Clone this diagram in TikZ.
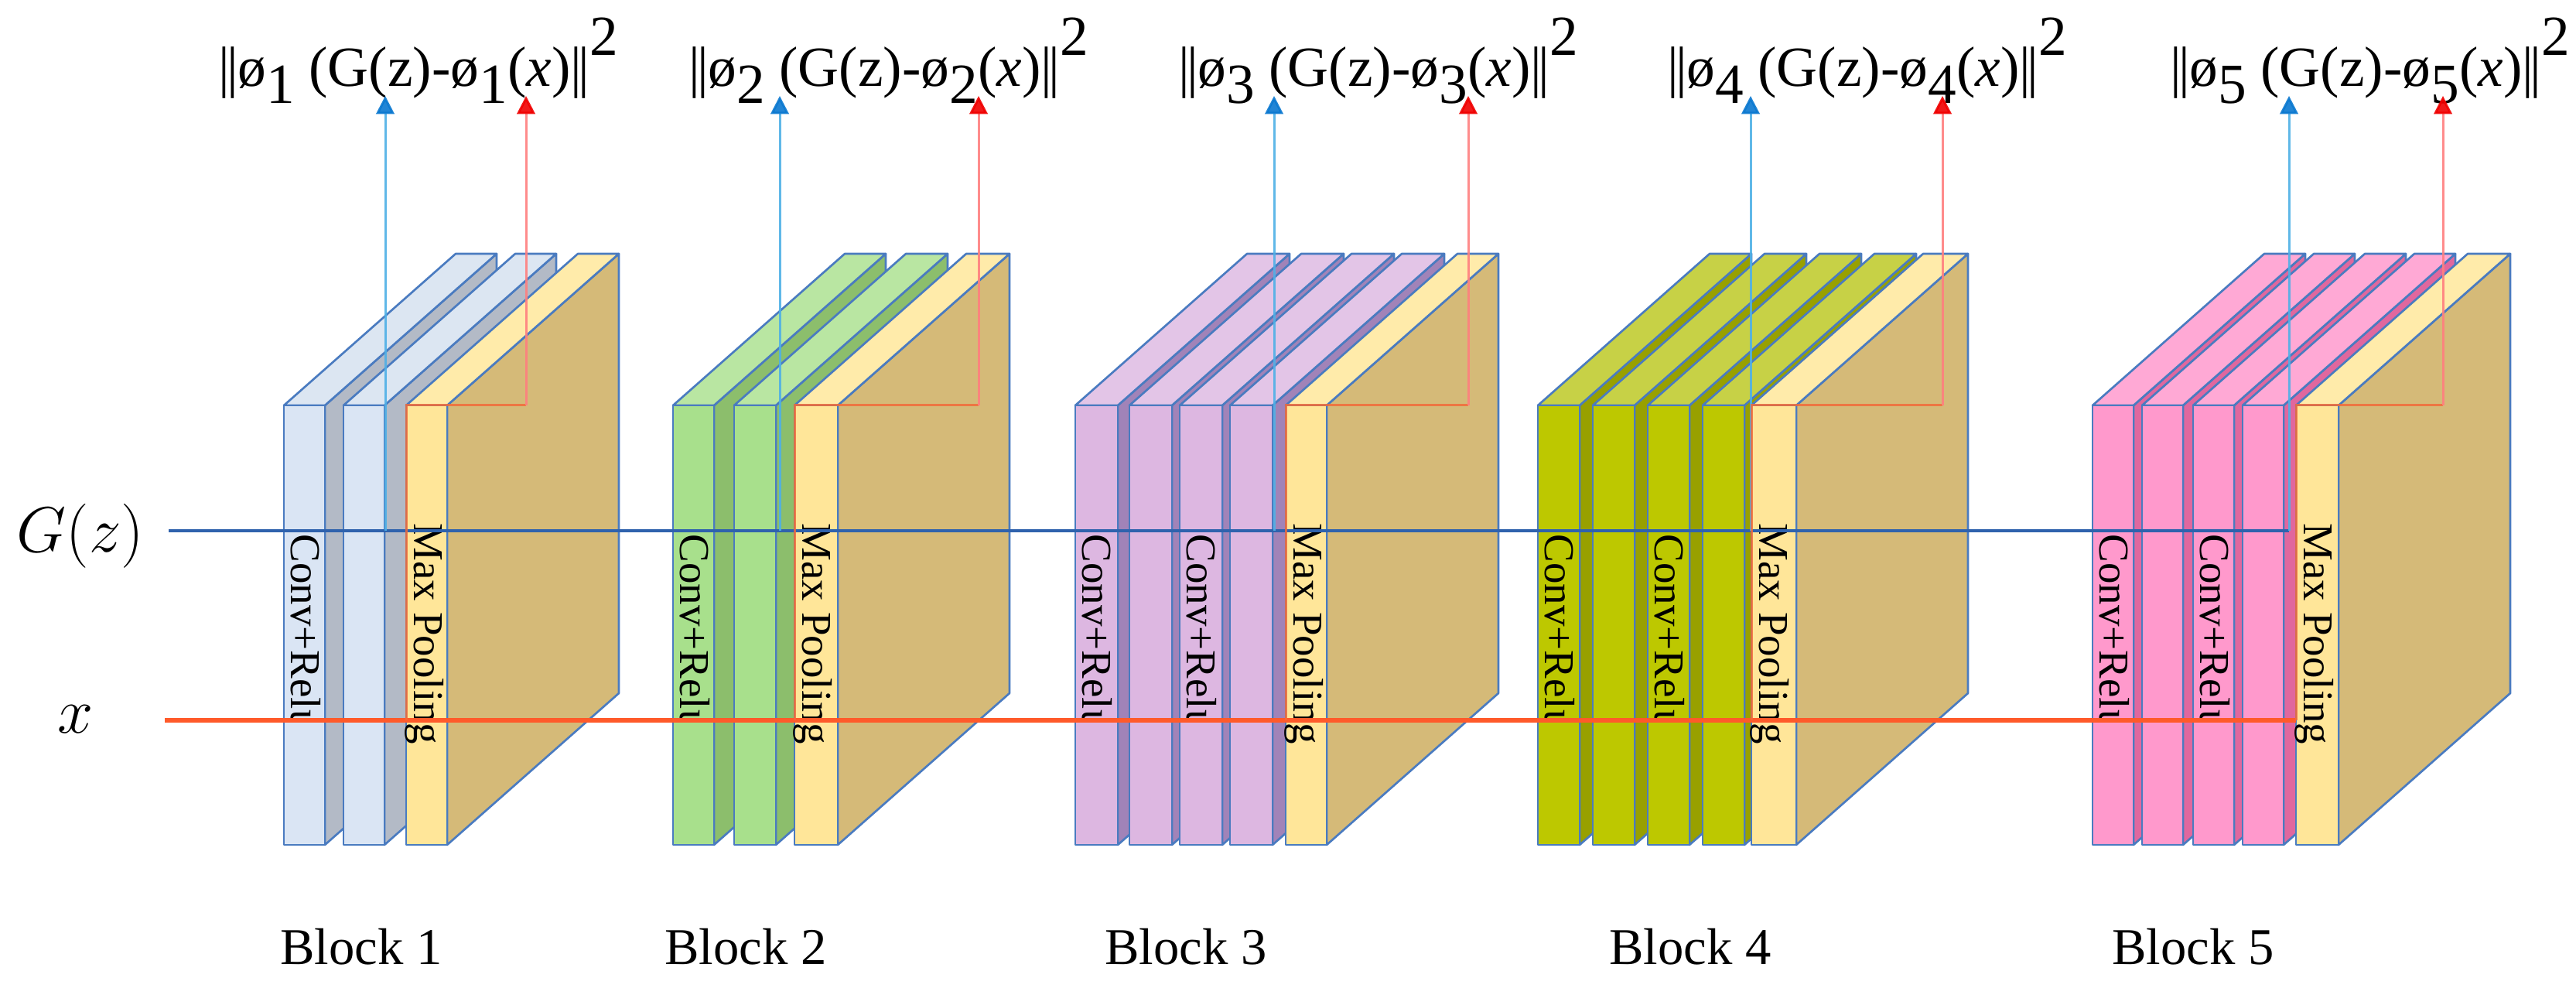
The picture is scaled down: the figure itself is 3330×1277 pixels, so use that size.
\documentclass[tikz,border=0pt]{standalone}
\usepackage{fontspec}
\setmainfont{Liberation Serif}
\usetikzlibrary{arrows.meta}
\definecolor{edgec}{HTML}{4A7BC0}
\definecolor{gline}{HTML}{2F62AD}
\definecolor{xline}{HTML}{FF5A2A}
\definecolor{bup}{HTML}{4FB0E6}
\definecolor{btip}{HTML}{0A78D0}
\definecolor{rup}{HTML}{FF7F7F}
\definecolor{rtip}{HTML}{F00000}
\definecolor{rpath}{HTML}{F26B3A}
\definecolor{aF}{HTML}{DAE5F4}\definecolor{aT}{HTML}{DCE6F2}\definecolor{aS}{HTML}{B3BAC6}
\definecolor{bF}{HTML}{A8E08C}\definecolor{bT}{HTML}{B9E6A2}\definecolor{bS}{HTML}{8CBE6C}
\definecolor{cF}{HTML}{DDB7E1}\definecolor{cT}{HTML}{E3C5E7}\definecolor{cS}{HTML}{A183B8}
\definecolor{dF}{HTML}{BDC800}\definecolor{dT}{HTML}{C7D146}\definecolor{dS}{HTML}{98A000}
\definecolor{eF}{HTML}{FF99CC}\definecolor{eT}{HTML}{FFA9D5}\definecolor{eS}{HTML}{E0679E}
\definecolor{mF}{HTML}{FFE699}\definecolor{mT}{HTML}{FFEBAA}\definecolor{mS}{HTML}{D5BA78}
\tikzset{
 edge/.style={draw=edgec,line width=0.8pt,line join=round},
 slabtxt/.style={rotate=-90,anchor=base west,inner sep=0pt,font=\fontsize{16.5}{18}\selectfont},
 loss/.style={anchor=base,inner sep=0pt,font=\fontsize{22}{24}\selectfont},
 blk/.style={inner sep=0pt,font=\fontsize{20}{22}\selectfont},
 side/.style={inner sep=0pt,font=\fontsize{27}{30}\selectfont},
 gl/.style={draw=gline,line width=1.2pt},
 xl/.style={draw=xline,line width=1.6pt},
 bv/.style={draw=bup,line width=0.9pt,opacity=0.9,-{Triangle[length=7pt,width=7pt,fill=btip,color=btip]}},
 rv/.style={draw=rpath,line width=0.9pt,opacity=0.85},
 ra/.style={draw=rup,line width=0.9pt,opacity=0.9,-{Triangle[length=7pt,width=7pt,fill=rtip,color=rtip]}},
}
% #1 left, #2 width, #3 front, #4 top, #5 side
\newcommand\myslab[5]{%
 \pgfmathsetmacro\RR{#1+#2}%
 \draw[edge,fill=#5] (\RR,524) -- ++(222,-196) -- ++(0,568) -- (\RR,1092) -- cycle;
 \draw[edge,fill=#4] (#1,524) -- ++(222,-196) -- ++(#2,0) -- (\RR,524) -- cycle;
 \draw[edge,fill=#3] (#1,524) rectangle (\RR,1092);
}
\newcommand\convtxt[3]{\begin{scope}\clip (0,0) rectangle (3330,929);
 \node[slabtxt] (#1) at (#2+9,690) {Conv+Relu};\end{scope}}
\newcommand\pooltxt[2]{\node[slabtxt] (#1) at (#2+10,676) {Max Pooling};}
\newcommand\bars{|\kern-0.06em|}
\newcommand\losslabel[4]{\node[loss] (#1) at (#2,#3) {\bars ø\raisebox{-0.3em}{#4} (G(z)-ø\raisebox{-0.3em}{#4}(\textit{x})\bars\raisebox{0.55em}{2}};}
\begin{document}
\begin{tikzpicture}[x=0.3pt,y=-0.3pt]
\useasboundingbox (0,0) rectangle (3330,1277);
% Block 1
\myslab{367}{53}{aF}{aT}{aS}\myslab{444}{53}{aF}{aT}{aS}\myslab{525}{53}{mF}{mT}{mS}
% Block 2
\myslab{870}{53}{bF}{bT}{bS}\myslab{949}{54}{bF}{bT}{bS}\myslab{1027}{56}{mF}{mT}{mS}
% Block 3
\myslab{1390}{55}{cF}{cT}{cS}\myslab{1460}{55}{cF}{cT}{cS}\myslab{1525}{55}{cF}{cT}{cS}\myslab{1590}{55}{cF}{cT}{cS}\myslab{1662}{53}{mF}{mT}{mS}
% Block 4
\myslab{1988}{54}{dF}{dT}{dS}\myslab{2059}{54}{dF}{dT}{dS}\myslab{2130}{54}{dF}{dT}{dS}\myslab{2201}{54}{dF}{dT}{dS}\myslab{2264}{58}{mF}{mT}{mS}
% Block 5
\myslab{2705}{53}{eF}{eT}{eS}\myslab{2769}{53}{eF}{eT}{eS}\myslab{2835}{53}{eF}{eT}{eS}\myslab{2899}{53}{eF}{eT}{eS}\myslab{2968}{55}{mF}{mT}{mS}
% texts
\convtxt{t11}{367}\convtxt{t12}{444}\pooltxt{p1}{525}
\convtxt{t21}{870}\convtxt{t22}{949}\pooltxt{p2}{1027}
\convtxt{t31}{1390}\convtxt{t32}{1460}\convtxt{t33}{1525}\convtxt{t34}{1590}\pooltxt{p3}{1662}
\convtxt{t41}{1988}\convtxt{t42}{2059}\convtxt{t43}{2130}\convtxt{t44}{2201}\pooltxt{p4}{2264}
\convtxt{t51}{2705}\convtxt{t52}{2769}\convtxt{t53}{2835}\convtxt{t54}{2899}\pooltxt{p5}{2968}
% labels
\node[side] (gz) at (104,693) {$G(z)$};
\node[side] (xx) at (98,930) {$x$};
\losslabel{l1}{541}{112}{1}
\losslabel{l2}{1149}{112}{2}
\losslabel{l3}{1782}{112}{3}
\losslabel{l4}{2414}{112}{4}
\losslabel{l5}{3064}{112}{5}
\node[blk] (b1) at (467,1224) {Block 1};
\node[blk] (b2) at (964,1224) {Block 2};
\node[blk] (b3) at (1533,1224) {Block 3};
\node[blk] (b4) at (2185,1224) {Block 4};
\node[blk] (b5) at (2835,1224) {Block 5};
% coordinates
\coordinate (gs) at (218,686); \coordinate (ge) at (2959,686);
\coordinate (xs) at (213,931); \coordinate (xe) at (2968,931);
% lines
\draw[gl] (gs) -- (ge);
\draw[xl] (xs) -- (xe);
\foreach \bx/\mx/\rx/\n in {498/525/680/1,1008/1027/1265/2,1647/1662/1898/3,2263/2264/2511/4,2959/2968/3158/5}{
 \coordinate (bb\n) at (\bx,686); \coordinate (bt\n) at (\bx,124);
 \coordinate (rb\n) at (\mx,931); \coordinate (rc\n) at (\mx,524); \coordinate (rd\n) at (\rx,524); \coordinate (rt\n) at (\rx,124);
 \draw[bv] (bb\n) -- (bt\n);
 \draw[rv] (rb\n) -- (rc\n) -- (rd\n);
 \draw[ra] (rd\n) -- (rt\n);
}
\end{tikzpicture}
\end{document}
